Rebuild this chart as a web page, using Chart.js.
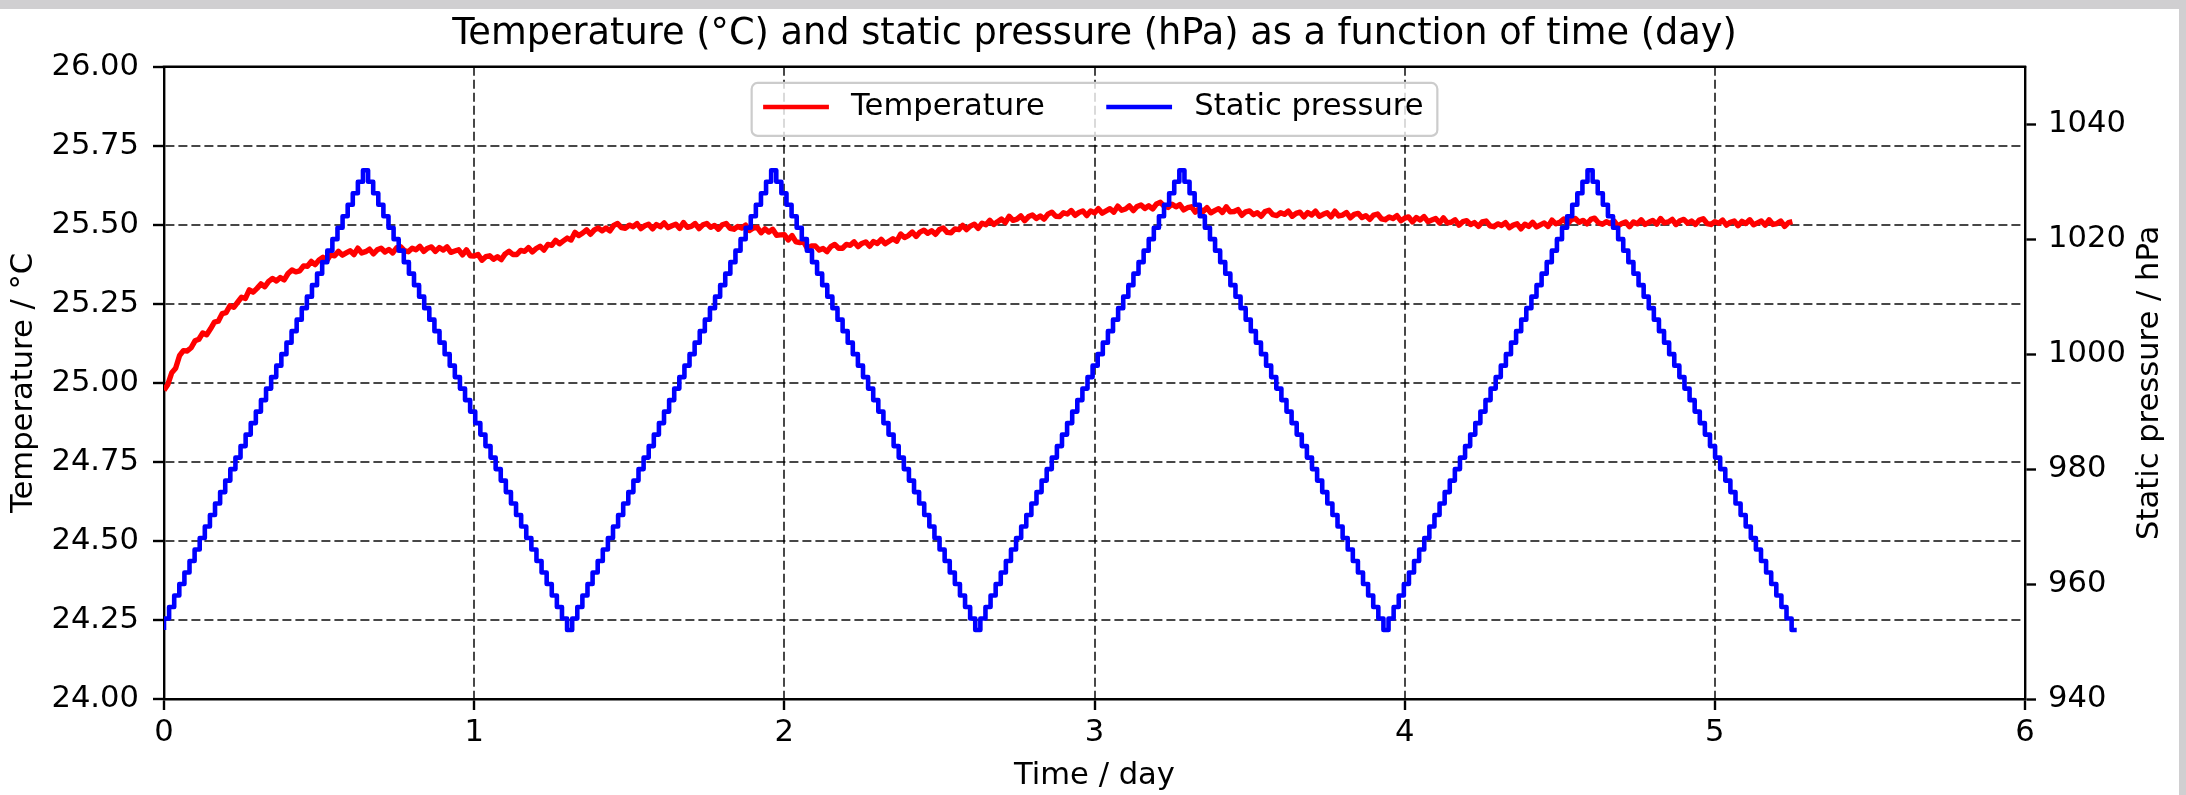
<!DOCTYPE html>
<html>
<head>
<meta charset="utf-8">
<title>Temperature and static pressure</title>
<script src="https://cdn.jsdelivr.net/npm/chart.js@4.4.1/dist/chart.umd.min.js"></script>
<style>
  html, body { margin: 0; padding: 0; background: #d0cfd1; overflow: hidden; }
  .chartBox { position: absolute; left: 0; top: 9px; width: 2179px; height: 786px; background: #ffffff; }
</style>
</head>
<body>
<div class="chartBox"><canvas id="tempPressureChart" width="2179" height="786"></canvas></div>
<script>

/*DATA*/
var temperatureStepDays = 0.0125;
var temperatureValues = [
  24.977, 24.995, 25.032, 25.046, 25.086, 25.102, 25.101, 25.111, 25.133, 25.138,
  25.158, 25.152, 25.171, 25.192, 25.195, 25.219, 25.222, 25.244, 25.239, 25.255,
  25.271, 25.267, 25.294, 25.287, 25.299, 25.313, 25.304, 25.321, 25.330, 25.322,
  25.333, 25.326, 25.346, 25.357, 25.351, 25.354, 25.370, 25.369, 25.384, 25.374,
  25.389, 25.397, 25.387, 25.405, 25.402, 25.416, 25.404, 25.411, 25.418, 25.406,
  25.426, 25.411, 25.415, 25.423, 25.408, 25.421, 25.426, 25.414, 25.422, 25.411,
  25.427, 25.431, 25.418, 25.415, 25.426, 25.421, 25.432, 25.416, 25.426, 25.430,
  25.416, 25.428, 25.420, 25.430, 25.413, 25.417, 25.421, 25.405, 25.421, 25.402,
  25.401, 25.406, 25.388, 25.399, 25.402, 25.391, 25.399, 25.390, 25.408, 25.416,
  25.406, 25.406, 25.419, 25.416, 25.428, 25.414, 25.425, 25.432, 25.420, 25.438,
  25.435, 25.451, 25.440, 25.449, 25.458, 25.452, 25.476, 25.466, 25.474, 25.484,
  25.470, 25.484, 25.490, 25.481, 25.490, 25.481, 25.498, 25.504, 25.491, 25.489,
  25.499, 25.494, 25.504, 25.488, 25.497, 25.502, 25.487, 25.501, 25.494, 25.506,
  25.491, 25.497, 25.502, 25.489, 25.507, 25.492, 25.495, 25.504, 25.488, 25.500,
  25.504, 25.492, 25.498, 25.486, 25.500, 25.504, 25.489, 25.486, 25.495, 25.490,
  25.499, 25.482, 25.490, 25.492, 25.475, 25.487, 25.477, 25.486, 25.467, 25.468,
  25.469, 25.452, 25.466, 25.446, 25.444, 25.446, 25.424, 25.433, 25.433, 25.420,
  25.425, 25.415, 25.431, 25.438, 25.426, 25.426, 25.438, 25.435, 25.446, 25.431,
  25.441, 25.446, 25.432, 25.447, 25.441, 25.454, 25.440, 25.448, 25.456, 25.448,
  25.471, 25.460, 25.466, 25.477, 25.463, 25.477, 25.483, 25.473, 25.481, 25.470,
  25.485, 25.490, 25.476, 25.475, 25.487, 25.485, 25.498, 25.485, 25.496, 25.502,
  25.489, 25.505, 25.500, 25.514, 25.501, 25.510, 25.518, 25.507, 25.527, 25.514,
  25.518, 25.528, 25.513, 25.526, 25.531, 25.520, 25.528, 25.518, 25.534, 25.540,
  25.527, 25.526, 25.538, 25.534, 25.545, 25.530, 25.539, 25.544, 25.529, 25.544,
  25.538, 25.551, 25.537, 25.544, 25.551, 25.540, 25.559, 25.546, 25.550, 25.560,
  25.545, 25.558, 25.563, 25.552, 25.560, 25.550, 25.566, 25.571, 25.558, 25.555,
  25.565, 25.557, 25.564, 25.547, 25.554, 25.557, 25.540, 25.552, 25.542, 25.554,
  25.538, 25.545, 25.551, 25.539, 25.557, 25.541, 25.542, 25.548, 25.530, 25.541,
  25.544, 25.532, 25.538, 25.527, 25.542, 25.546, 25.532, 25.529, 25.538, 25.533,
  25.543, 25.527, 25.536, 25.540, 25.525, 25.539, 25.531, 25.543, 25.527, 25.533,
  25.538, 25.525, 25.543, 25.528, 25.531, 25.539, 25.522, 25.533, 25.536, 25.523,
  25.529, 25.517, 25.531, 25.534, 25.519, 25.516, 25.525, 25.520, 25.529, 25.513,
  25.521, 25.525, 25.509, 25.523, 25.515, 25.526, 25.510, 25.515, 25.520, 25.506,
  25.522, 25.506, 25.508, 25.516, 25.499, 25.510, 25.513, 25.501, 25.507, 25.495,
  25.509, 25.512, 25.497, 25.494, 25.503, 25.498, 25.507, 25.491, 25.499, 25.503,
  25.487, 25.502, 25.495, 25.508, 25.493, 25.500, 25.506, 25.495, 25.515, 25.503,
  25.508, 25.518, 25.503, 25.516, 25.520, 25.508, 25.514, 25.503, 25.517, 25.521,
  25.506, 25.502, 25.510, 25.504, 25.512, 25.496, 25.504, 25.509, 25.494, 25.509,
  25.503, 25.516, 25.501, 25.508, 25.514, 25.502, 25.520, 25.506, 25.509, 25.517,
  25.501, 25.513, 25.517, 25.505, 25.512, 25.501, 25.515, 25.519, 25.504, 25.501,
  25.510, 25.505, 25.515, 25.499, 25.508, 25.512, 25.497, 25.511, 25.504, 25.516,
  25.500, 25.506, 25.512, 25.499, 25.516, 25.501, 25.504, 25.512, 25.495, 25.507,
  25.510
];

var pressureStepDays = 0.01645;
var pressureValues = [
  952, 954, 956, 958, 960, 962, 964, 966, 968, 970, 972, 974, 976, 978, 980, 982, 984, 986, 988, 990,
  992, 994, 996, 998, 1000, 1002, 1004, 1006, 1008, 1010, 1012, 1014, 1016, 1018, 1020, 1022, 1024, 1026, 1028, 1030,
  1032,
  1030, 1028, 1026, 1024, 1022, 1020, 1018, 1016, 1014, 1012, 1010, 1008, 1006, 1004, 1002, 1000, 998, 996, 994, 992,
  990, 988, 986, 984, 982, 980, 978, 976, 974, 972, 970, 968, 966, 964, 962, 960, 958, 956, 954, 952,
  954, 956, 958, 960, 962, 964, 966, 968, 970, 972, 974, 976, 978, 980, 982, 984, 986, 988, 990, 992,
  994, 996, 998, 1000, 1002, 1004, 1006, 1008, 1010, 1012, 1014, 1016, 1018, 1020, 1022, 1024, 1026, 1028, 1030, 1032,
  1030, 1028, 1026, 1024, 1022, 1020, 1018, 1016, 1014, 1012, 1010, 1008, 1006, 1004, 1002, 1000, 998, 996, 994, 992,
  990, 988, 986, 984, 982, 980, 978, 976, 974, 972, 970, 968, 966, 964, 962, 960, 958, 956, 954, 952,
  954, 956, 958, 960, 962, 964, 966, 968, 970, 972, 974, 976, 978, 980, 982, 984, 986, 988, 990, 992,
  994, 996, 998, 1000, 1002, 1004, 1006, 1008, 1010, 1012, 1014, 1016, 1018, 1020, 1022, 1024, 1026, 1028, 1030, 1032,
  1030, 1028, 1026, 1024, 1022, 1020, 1018, 1016, 1014, 1012, 1010, 1008, 1006, 1004, 1002, 1000, 998, 996, 994, 992,
  990, 988, 986, 984, 982, 980, 978, 976, 974, 972, 970, 968, 966, 964, 962, 960, 958, 956, 954, 952,
  954, 956, 958, 960, 962, 964, 966, 968, 970, 972, 974, 976, 978, 980, 982, 984, 986, 988, 990, 992,
  994, 996, 998, 1000, 1002, 1004, 1006, 1008, 1010, 1012, 1014, 1016, 1018, 1020, 1022, 1024, 1026, 1028, 1030, 1032,
  1030, 1028, 1026, 1024, 1022, 1020, 1018, 1016, 1014, 1012, 1010, 1008, 1006, 1004, 1002, 1000, 998, 996, 994, 992,
  990, 988, 986, 984, 982, 980, 978, 976, 974, 972, 970, 968, 966, 964, 962, 960, 958, 956, 954, 952
];

var dayTicks = [0, 1, 2, 3, 4, 5, 6];
var temperatureTicks = [24.00, 24.25, 24.50, 24.75, 25.00, 25.25, 25.50, 25.75, 26.00];
var pressureTicks = [940, 960, 980, 1000, 1020, 1040];
/*DATA*/


document.addEventListener("DOMContentLoaded", function () {

  var fontFamily = "'DejaVu Sans', sans-serif";
  var tickFont = {family: fontFamily, size: 30.6, lineHeight: 1.2};
  var gridColor = "rgba(0,0,0,0.72)";

  /*LEGEND BOX, TOP SPINE AND RIGHT AXIS TITLE*/
  var frameAndLegend = {
    id: "frameAndLegend",
    afterDatasetsDraw: function (chart) {
      var ctx = chart.ctx;
      var area = chart.chartArea;
      var fs = tickFont.size;

      ctx.save();
      // top spine
      ctx.strokeStyle = "#000";
      ctx.lineWidth = 2.4;
      ctx.beginPath();
      ctx.moveTo(area.left - 1.2, area.top);
      ctx.lineTo(area.right + 1.2, area.top);
      ctx.stroke();

      // legend
      ctx.font = fs + "px " + fontFamily;
      var items = chart.data.datasets.map(function (ds) {
        return {label: ds.label, color: ds.borderColor, w: ctx.measureText(ds.label).width};
      });
      var pad = 0.45 * fs, handle = 2 * fs, textPad = 0.8 * fs, colSpace = 2.08 * fs;
      var boxW = 2 * pad + items.length * (handle + textPad) + colSpace * (items.length - 1);
      for (var i = 0; i < items.length; i++) boxW += items[i].w;
      var boxH = 1.73 * fs;
      var boxL = (area.left + area.right) / 2 - boxW / 2;
      var boxT = area.top + 0.53 * fs;

      ctx.beginPath();
      ctx.roundRect(boxL, boxT, boxW, boxH, 6);
      ctx.fillStyle = "rgba(255,255,255,0.8)";
      ctx.fill();
      ctx.strokeStyle = "#cccccc";
      ctx.lineWidth = 2.2;
      ctx.stroke();

      var cy = boxT + boxH / 2 - 2.5;
      var cx = boxL + pad;
      ctx.textBaseline = "middle";
      ctx.textAlign = "left";
      for (var j = 0; j < items.length; j++) {
        ctx.strokeStyle = items[j].color;
        ctx.lineWidth = 4.6;
        ctx.lineCap = "square";
        ctx.beginPath();
        ctx.moveTo(cx, cy);
        ctx.lineTo(cx + handle, cy);
        ctx.stroke();
        cx += handle + textPad;
        ctx.fillStyle = "#000";
        ctx.fillText(items[j].label, cx, cy);
        cx += items[j].w + colSpace;
      }

      // right axis title, reading upwards like the left one
      var y1 = chart.scales.y1;
      ctx.translate(y1.right - 0.95 * fs, (area.top + area.bottom) / 2);
      ctx.rotate(-Math.PI / 2);
      ctx.textAlign = "center";
      ctx.fillStyle = "#000";
      ctx.fillText("Static pressure / hPa", 0, 0);
      ctx.restore();
    }
  };
  /*LEGEND BOX, TOP SPINE AND RIGHT AXIS TITLE*/


  /*CHART*/
  var temperaturePoints = temperatureValues.map(function (v, i) {
    return {x: i * temperatureStepDays, y: v};
  });
  var pressurePoints = pressureValues.map(function (v, i) {
    return {x: i * pressureStepDays, y: v};
  });

  var ctx = document.getElementById("tempPressureChart");
  var myChart = new Chart(ctx, {
    type: "line",
    data: {
      datasets: [{
        label: "Temperature",
        data: temperaturePoints,
        yAxisID: "y",
        borderColor: "#ff0000",
        backgroundColor: "#ff0000",
        borderWidth: 5.4,
        borderJoinStyle: "round",
        pointRadius: 0,
        tension: 0,
        order: 1
      }, {
        label: "Static pressure",
        data: pressurePoints,
        yAxisID: "y1",
        borderColor: "#0000ff",
        backgroundColor: "#0000ff",
        borderWidth: 4.6,
        borderJoinStyle: "round",
        stepped: "after",
        pointRadius: 0,
        tension: 0,
        order: 0
      }]
    },
    options: {
      responsive: false,
      animation: false,
      layout: {padding: {left: 10, right: 0, top: 0, bottom: 0}},
      plugins: {
        legend: {display: false},
        tooltip: {enabled: false},
        title: {
          display: true,
          text: "Temperature (°C) and static pressure (hPa) as a function of time (day)",
          color: "#000",
          font: {family: fontFamily, size: 36.7, weight: "normal", lineHeight: 1.2},
          padding: {top: 3.2, bottom: 10.5}
        }
      },
      scales: {
        x: {
          type: "linear",
          min: 0,
          max: 6,
          afterBuildTicks: function (scale) {
            scale.ticks = dayTicks.map(function (v) { return {value: v}; });
          },
          afterFit: function (scale) { scale.height = 96; },
          ticks: {
            font: tickFont, color: "#000", padding: 5, maxRotation: 0, autoSkip: false,
            callback: function (v) { return String(v); }
          },
          grid: {color: gridColor, lineWidth: 2, tickLength: 11, tickColor: "#000", tickWidth: 2.4},
          border: {color: "#000", width: 2.4, dash: [9, 4]},
          title: {display: true, text: "Time / day", color: "#000", font: tickFont, padding: {top: 0, bottom: 1}}
        },
        y: {
          type: "linear",
          position: "left",
          min: 24,
          max: 26,
          afterBuildTicks: function (scale) {
            scale.ticks = temperatureTicks.map(function (v) { return {value: v}; });
          },
          afterFit: function (scale) { scale.width = 154; },
          ticks: {
            font: tickFont, color: "#000", padding: 14,
            callback: function (v) { return Number(v).toFixed(2); }
          },
          grid: {color: gridColor, lineWidth: 2, tickLength: 11, tickColor: "#000", tickWidth: 2.4},
          border: {color: "#000", width: 2.4, dash: [9, 4]},
          title: {display: true, text: "Temperature / °C", color: "#000", font: tickFont, padding: {top: -4, bottom: 0}}
        },
        y1: {
          type: "linear",
          position: "right",
          min: 940,
          max: 1050,
          afterBuildTicks: function (scale) {
            scale.ticks = pressureTicks.map(function (v) { return {value: v}; });
          },
          afterFit: function (scale) { scale.width = 154; },
          ticks: {
            font: tickFont, color: "#000", padding: 12,
            callback: function (v) { return String(v); }
          },
          grid: {drawOnChartArea: false, color: "#000", tickLength: 11, tickColor: "#000", tickWidth: 2.4},
          border: {color: "#000", width: 2.4}
        }
      }
    },
    plugins: [frameAndLegend]
  });
  /*CHART*/

});
</script>
</body>
</html>
